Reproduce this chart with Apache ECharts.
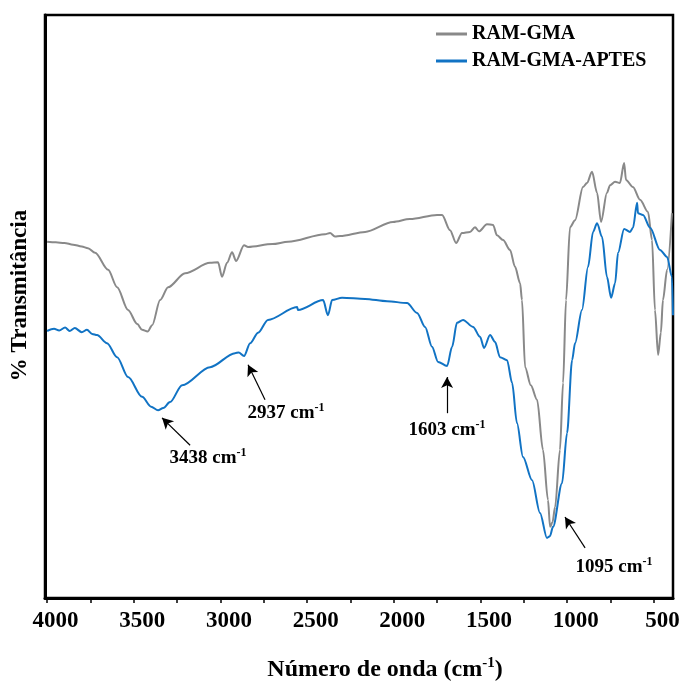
<!DOCTYPE html>
<html>
<head>
<meta charset="utf-8">
<script src="https://cdn.jsdelivr.net/npm/echarts@6/dist/echarts.min.js"></script>
<style>
html,body{margin:0;padding:0;background:#fff;}
#c{width:680px;height:683px;}
</style>
</head>
<body>
<div id="c"></div>
<script>
// Wavenumbers (cm-1) and % transmittance (arbitrary scale 0-100)
var gmaWn = [4000,3950,3900,3850,3800,3764,3723,3648,3596,3533,3480,3452,3420,3394,3348,3302,3204,3060,3014,2991,2962,2933,2910,2864,2841,2700,2610,2397,2368,2340,2310,2166,2005,1907,1751,1722,1676,1641,1607,1561,1532,1509,1463,1428,1405,1370,1330,1301,1272,1261,1243,1210,1174,1140,1111,1099,1085,1070,1042,1024,1007,984,955,909,886,857,828,805,771,753,724,696,672,661,621,580,534,511,494,476,460,448,424,396];
var gmaT  = [61.1,61.0,60.9,60.6,60.3,60.0,59.2,56.3,53.3,49.4,47.0,46.0,45.7,46.8,51.1,53.3,55.7,57.5,57.6,55.1,57.5,59.3,57.8,60.5,60.2,60.7,61.1,62.4,62.6,62.0,62.1,62.8,64.5,65.0,65.7,65.7,63.1,60.9,62.6,62.8,63.6,62.9,64.1,64.0,62.2,61.4,59.7,56.8,54.0,51.1,39.6,36.5,34.0,25.4,16.8,12.2,13.0,15.6,25.4,36.9,51.1,63.6,64.8,70.5,71.2,73.1,69.5,64.5,69.5,70.8,71.4,71.2,74.6,71.7,70.5,68.3,66.2,61.4,49.4,41.7,45.5,51.1,56.3,66.0];

var aptesWn = [4000,3960,3930,3896,3870,3840,3800,3770,3740,3712,3654,3596,3533,3452,3400,3360,3330,3291,3221,3060,2916,2895,2864,2829,2783,2726,2558,2553,2408,2380,2356,2299,2166,2039,1924,1866,1820,1780,1745,1693,1664,1636,1601,1543,1503,1480,1445,1416,1388,1347,1318,1290,1255,1203,1157,1117,1100,1082,1030,1001,972,955,915,880,851,828,799,771,747,724,707,672,638,621,597,592,563,522,465,424,396,390];
var aptesT  = [45.8,46.2,45.9,46.4,45.8,46.3,45.6,46.0,45.3,45.1,43.7,41.3,37.9,34.5,32.8,32.2,32.6,33.6,36.5,39.6,42.0,42.1,41.5,43.7,45.5,47.7,49.9,49.4,51.1,48.5,51.1,51.5,51.3,50.9,50.6,48.9,46.5,43.1,40.5,39.8,43.1,47.2,47.7,46.5,44.8,42.9,45.1,43.9,41.3,40.8,36.9,30.0,24.2,20.2,14.6,10.3,10.6,12.2,19.7,28.3,40.8,43.7,49.4,56.8,62.8,64.3,61.9,55.1,51.5,54.0,59.2,63.3,62.8,63.5,67.8,66.0,65.7,63.5,59.7,58.5,55.1,48.5];

// Annotations: label, arrow tail, arrow tip, text centre  ([wavenumber, T])
var annLabels = ['3438', '2937', '1603', '1095'];
var annTail = [[3175,26.2],[2743,34.0],[1693,31.7],[897,8.6]];
var annTip  = [[3337,30.9],[2841,40.0],[1693,37.9],[1013,13.9]];
var annText = [[3072,24.0],[2622,31.7],[1693,28.8],[730,5.3]];

var xTicks = [4000,3750,3500,3250,3000,2750,2500,2250,2000,1750,1500,1250,1000,750,500];
var xLabels = [4000,3500,3000,2500,2000,1500,1000,500];

var seriesNames = ['RAM-GMA', 'RAM-GMA-APTES'];
var seriesColors = ['#898989', '#1173c4'];

function pairs(a, b) { return a.map(function (v, i) { return [v, b[i]]; }); }

var FONT = '"Liberation Serif", "Times New Roman", serif';

var chart = echarts.init(document.getElementById('c'), null, {renderer: 'canvas'});
chart.setOption({
  animation: false,
  backgroundColor: '#fff',
  grid: {left: 45, right: 7, top: 15, bottom: 85, show: true, borderColor: '#000', borderWidth: 2.5, backgroundColor: 'transparent',
    containLabel: false, outerBoundsMode: 'none'},
  legend: {
    orient: 'vertical', left: 431, top: 19,
    itemWidth: 31, itemHeight: 3, itemGap: 7,
    icon: 'rect',
    textStyle: {fontFamily: FONT, fontWeight: 'bold', fontSize: 20, color: '#000', lineHeight: 20},
    data: seriesNames
  },
  xAxis: {
    type: 'value', inverse: true, min: 390, max: 4012,
    name: '{a|Número de onda (cm}{s|-1}{a|)}',
    nameLocation: 'middle', nameGap: 58,
    nameTextStyle: {padding: [0, 0, 0, 52], rich: {
      a: {fontFamily: FONT, fontWeight: 'bold', fontSize: 24, color: '#000', lineHeight: 27},
      s: {fontFamily: FONT, fontWeight: 'bold', fontSize: 15, color: '#000', verticalAlign: 'top', lineHeight: 27, padding: [0,0,12,0]}
    }},
    axisLine: {show: true, lineStyle: {color: '#000', width: 3}},
    axisTick: {show: true, customValues: xTicks, length: 5, lineStyle: {color: '#000', width: 1.5}},
    axisLabel: {show: true, customValues: xLabels, margin: 12, fontFamily: FONT, fontWeight: 'bold', fontSize: 23, color: '#000',
      padding: [0, 0, 0, 17],
      formatter: function (v) { return String(v); }},
    splitLine: {show: false}
  },
  yAxis: {
    type: 'value', min: 0, max: 100,
    name: '% Transmitância', nameLocation: 'middle', nameGap: 13, nameRotate: 90,
    nameTextStyle: {fontFamily: FONT, fontWeight: 'bold', fontSize: 23, color: '#000', padding: [0, 0, 0, 22]},
    axisLine: {show: true, lineStyle: {color: '#000', width: 3}},
    axisTick: {show: false}, axisLabel: {show: false}, splitLine: {show: false}
  },
  series: [
    {
      name: seriesNames[0], type: 'line', data: pairs(gmaWn, gmaT), showSymbol: false, symbol: 'none',
      smooth: 0.3, smoothMonotone: 'x',
      lineStyle: {color: seriesColors[0], width: 2}, itemStyle: {color: seriesColors[0]}, z: 2
    },
    {
      name: seriesNames[1], type: 'line', data: pairs(aptesWn, aptesT), showSymbol: false, symbol: 'none',
      smooth: 0.3, smoothMonotone: 'x',
      lineStyle: {color: seriesColors[1], width: 2}, itemStyle: {color: seriesColors[1]}, z: 3,
      markLine: {
        silent: true, symbol: ['none', 'arrow'], symbolSize: [9, 11],
        lineStyle: {color: '#000', width: 1.2, type: 'solid'},
        label: {show: false},
        data: annTail.map(function (t, i) { return [{coord: t}, {coord: annTip[i]}]; })
      },
      markPoint: {
        silent: true, symbol: 'circle', symbolSize: 1, itemStyle: {color: 'rgba(0,0,0,0)'},
        label: {show: true, position: 'inside', formatter: function (p) { return '{n|' + p.name + ' cm}{s|-1}'; },
          rich: {
            n: {fontFamily: FONT, fontWeight: 'bold', fontSize: 19, color: '#000', lineHeight: 22},
            s: {fontFamily: FONT, fontWeight: 'bold', fontSize: 12, color: '#000', verticalAlign: 'top', lineHeight: 22, padding: [0,0,10,0]}
          }},
        data: annText.map(function (c, i) { return {name: annLabels[i], coord: c}; })
      }
    }
  ]
});
</script>
</body>
</html>
